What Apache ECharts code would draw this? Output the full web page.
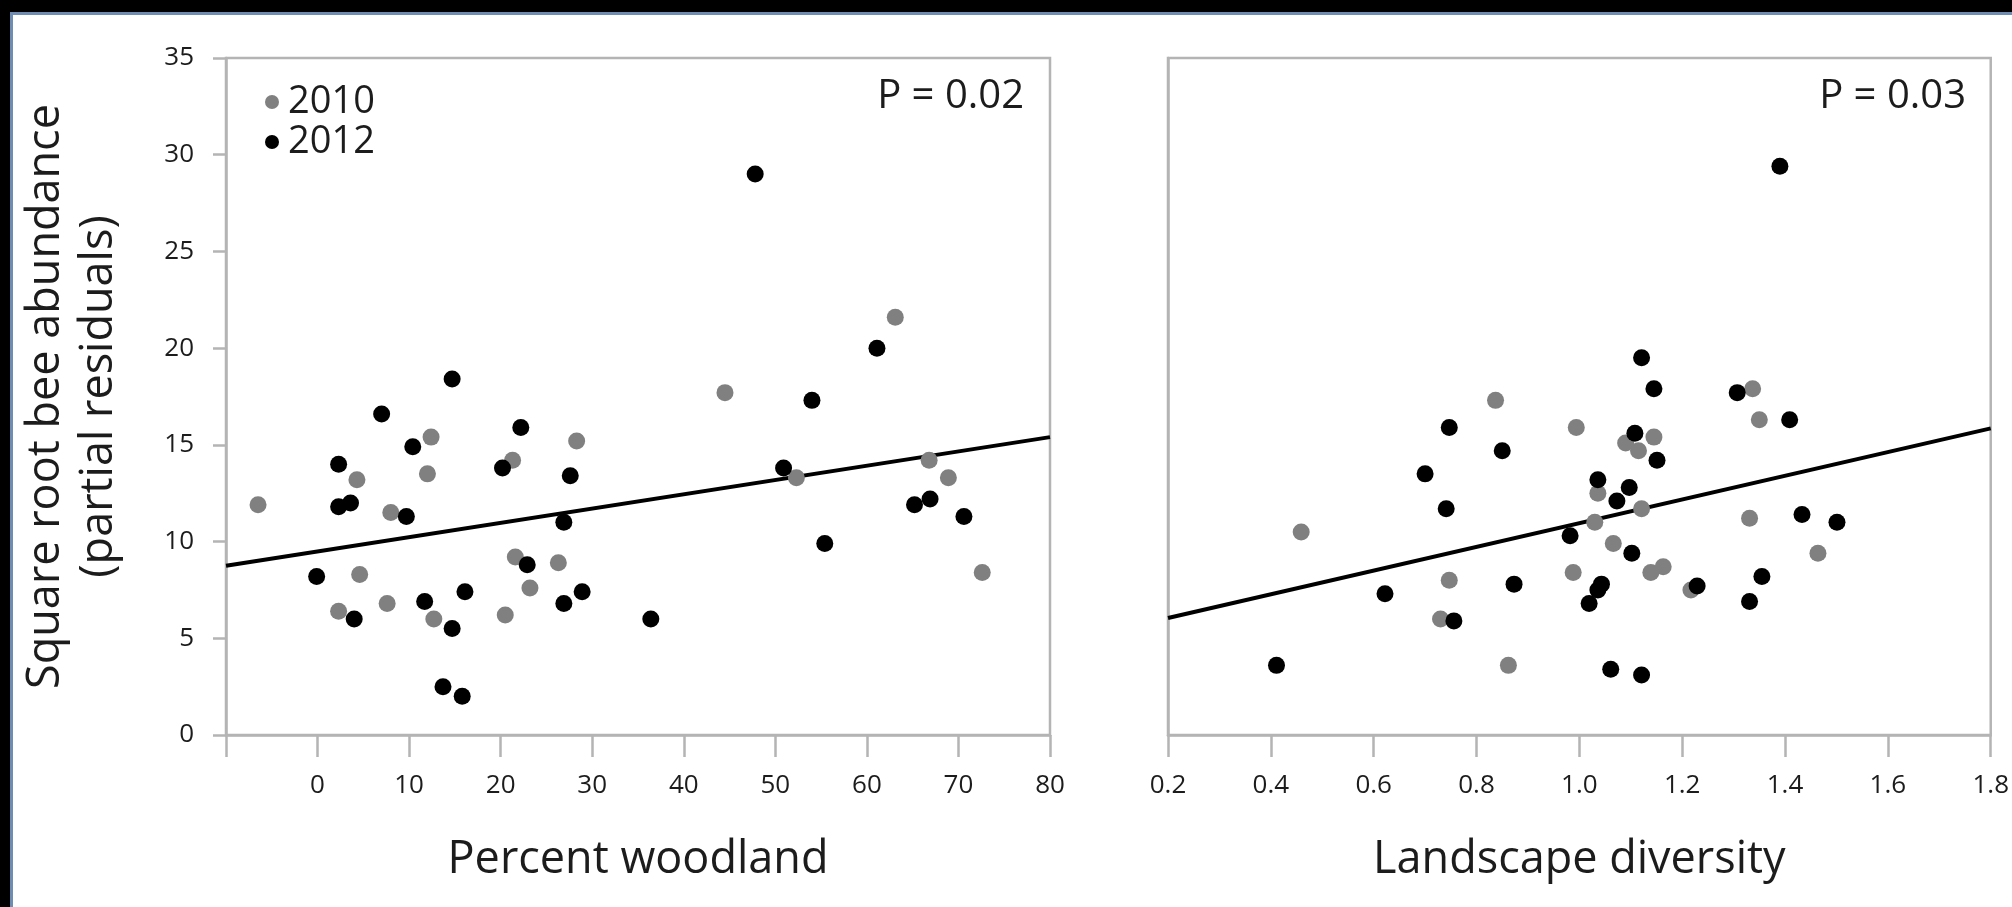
<!DOCTYPE html>
<html>
<head>
<meta charset="utf-8">
<script src="https://cdn.jsdelivr.net/npm/echarts@6/dist/echarts.min.js"></script>
<style>
html,body{margin:0;padding:0;background:#fff;}
#chart{width:2012px;height:907px;}
</style>
</head>
<body>
<div id="chart"></div>
<script>
// ---- Data ----
const yearNames = ['2010', '2012'];
const woodland2010 = [[-6.5,11.9],[4.3,13.2],[8.0,11.5],[12.4,15.4],[12.0,13.5],[21.3,14.2],[28.3,15.2],[21.6,9.2],[26.3,8.9],[23.2,7.6],[20.5,6.2],[12.7,6.0],[7.6,6.8],[4.6,8.3],[2.3,6.4],[63.1,21.6],[44.5,17.7],[52.3,13.3],[66.8,14.2],[68.9,13.3],[72.6,8.4]];
const woodland2012 = [[2.3,14.0],[2.3,11.8],[3.6,12.0],[7.0,16.6],[9.7,11.3],[10.4,14.9],[14.7,18.4],[22.2,15.9],[20.2,13.8],[27.6,13.4],[26.9,11.0],[22.9,8.8],[28.9,7.4],[26.9,6.8],[16.1,7.4],[11.7,6.9],[14.7,5.5],[-0.1,8.2],[4.0,6.0],[13.7,2.5],[15.8,2.0],[36.4,6.0],[61.1,20.0],[54.0,17.3],[50.9,13.8],[66.9,12.2],[65.2,11.9],[70.6,11.3],[55.4,9.9],[47.8,29.0]];
const diversity2010 = [[0.837,17.3],[0.994,15.9],[0.459,10.5],[0.988,8.4],[0.747,8.0],[0.730,6.0],[0.862,3.6],[1.337,17.9],[1.350,16.3],[1.145,15.4],[1.090,15.1],[1.115,14.7],[1.036,12.5],[1.121,11.7],[1.030,11.0],[1.066,9.9],[1.139,8.4],[1.163,8.7],[1.217,7.5],[1.331,11.2],[1.464,9.4]];
const diversity2012 = [[0.747,15.9],[0.850,14.7],[0.700,13.5],[0.741,11.7],[0.982,10.3],[0.873,7.8],[0.622,7.3],[0.756,5.9],[0.411,3.6],[1.121,19.5],[1.145,17.9],[1.307,17.7],[1.409,16.3],[1.108,15.6],[1.151,14.2],[1.036,13.2],[1.097,12.8],[1.073,12.1],[1.102,9.4],[1.043,7.8],[1.036,7.5],[1.019,6.8],[1.229,7.7],[1.433,11.4],[1.501,11.0],[1.355,8.2],[1.331,6.9],[1.061,3.4],[1.121,3.1],[1.39,29.4]];
const woodlandFit = [[-10, 8.75], [80, 15.4]];
const diversityFit = [[0.2, 6.05], [1.8, 15.85]];
const pLabels = ['P = 0.02', 'P = 0.03'];
const xTitles = ['Percent woodland', 'Landscape diversity'];
const yTitle = 'Square root bee abundance\n(partial residuals)';

// ---- Chart ----
const FONT = '"Open Sans", "DejaVu Sans", sans-serif';
const AXIS_GRAY = '#b4b4b4';
const TXT = '#1c1c1c';
const GRAY = '#808080';

const chart = echarts.init(document.getElementById('chart'), null, {renderer: 'canvas'});

function xAxisCommon(idx, min, max, interval, fmt) {
  return {
    type: 'value', gridIndex: idx, min: min, max: max, interval: interval,
    name: xTitles[idx], nameLocation: 'middle', nameGap: 103,
    nameTextStyle: {fontFamily: FONT, fontSize: 45, color: TXT},
    axisLine: {show: true, onZero: false, lineStyle: {color: AXIS_GRAY, width: 2.5}},
    axisTick: {show: true, inside: false, length: 22, lineStyle: {color: AXIS_GRAY, width: 2.5}},
    axisLabel: {show: true, margin: 38, fontFamily: FONT, fontSize: 26, color: TXT, formatter: fmt},
    splitLine: {show: false}
  };
}

const option = {
  animation: false,
  backgroundColor: '#ffffff',
  grid: [
    {left: 226, right: 962, top: 58, bottom: 172, show: true, borderColor: AXIS_GRAY, borderWidth: 2.5, backgroundColor: 'transparent'},
    {left: 1168, right: 20, top: 58, bottom: 172, show: true, borderColor: AXIS_GRAY, borderWidth: 2.5, backgroundColor: 'transparent'}
  ],
  xAxis: [
    xAxisCommon(0, -10, 80, 10, function (v) { return v === -10 ? '' : String(v); }),
    xAxisCommon(1, 0.2, 1.8, 0.2, function (v) { return v.toFixed(1); })
  ],
  yAxis: [
    {
      type: 'value', gridIndex: 0, min: 0, max: 35, interval: 5,
      name: yTitle, nameLocation: 'middle', nameGap: 100, nameRotate: 90,
      nameTextStyle: {fontFamily: FONT, fontSize: 45, color: TXT, lineHeight: 53},
      axisLine: {show: true, onZero: false, lineStyle: {color: AXIS_GRAY, width: 2.5}},
      axisTick: {show: true, inside: false, length: 13, lineStyle: {color: AXIS_GRAY, width: 2.5}},
      axisLabel: {show: true, margin: 32, fontFamily: FONT, fontSize: 26, color: TXT},
      splitLine: {show: false}
    },
    {
      type: 'value', gridIndex: 1, min: 0, max: 35, interval: 5,
      axisLine: {show: true, onZero: false, lineStyle: {color: AXIS_GRAY, width: 2.5}},
      axisTick: {show: false}, axisLabel: {show: false}, splitLine: {show: false}
    }
  ],
  legend: {
    data: yearNames,
    orient: 'vertical', left: 260, top: 78, itemGap: 2,
    itemWidth: 14, itemHeight: 14, icon: 'circle',
    textStyle: {fontFamily: FONT, fontSize: 38, color: TXT, lineHeight: 38, padding: [0, 0, 0, 4]},
    selectedMode: false
  },
  title: [
    {text: pLabels[0], right: 2012 - 1029, top: 72, textStyle: {fontFamily: FONT, fontSize: 40, fontWeight: 'normal', color: TXT}},
    {text: pLabels[1], right: 2012 - 1971, top: 72, textStyle: {fontFamily: FONT, fontSize: 40, fontWeight: 'normal', color: TXT}}
  ],
  graphic: [
    {type: 'rect', left: 0, top: 0, shape: {width: 2012, height: 12}, style: {fill: '#000'}, silent: true},
    {type: 'rect', left: 0, top: 0, shape: {width: 10, height: 907}, style: {fill: '#000'}, silent: true},
    {type: 'rect', left: 10, top: 12, shape: {width: 2002, height: 3}, style: {fill: '#6f8db3'}, silent: true},
    {type: 'rect', left: 10, top: 12, shape: {width: 3, height: 895}, style: {fill: '#6f8db3'}, silent: true}
  ],
  series: [
    {type: 'line', name: 'fit1', xAxisIndex: 0, yAxisIndex: 0, data: woodlandFit, showSymbol: false, symbol: 'none', lineStyle: {color: '#000', width: 4}, z: 1, silent: true},
    {type: 'line', name: 'fit2', xAxisIndex: 1, yAxisIndex: 1, data: diversityFit, showSymbol: false, symbol: 'none', lineStyle: {color: '#000', width: 4}, z: 1, silent: true},
    {type: 'scatter', name: yearNames[0], xAxisIndex: 0, yAxisIndex: 0, data: woodland2010, symbolSize: 17, itemStyle: {color: GRAY, opacity: 1}, z: 2},
    {type: 'scatter', name: yearNames[1], xAxisIndex: 0, yAxisIndex: 0, data: woodland2012, symbolSize: 17, itemStyle: {color: '#000', opacity: 1}, z: 3},
    {type: 'scatter', name: yearNames[0], xAxisIndex: 1, yAxisIndex: 1, data: diversity2010, symbolSize: 17, itemStyle: {color: GRAY, opacity: 1}, z: 2},
    {type: 'scatter', name: yearNames[1], xAxisIndex: 1, yAxisIndex: 1, data: diversity2012, symbolSize: 17, itemStyle: {color: '#000', opacity: 1}, z: 3}
  ]
};
chart.setOption(option);
</script>
</body>
</html>
